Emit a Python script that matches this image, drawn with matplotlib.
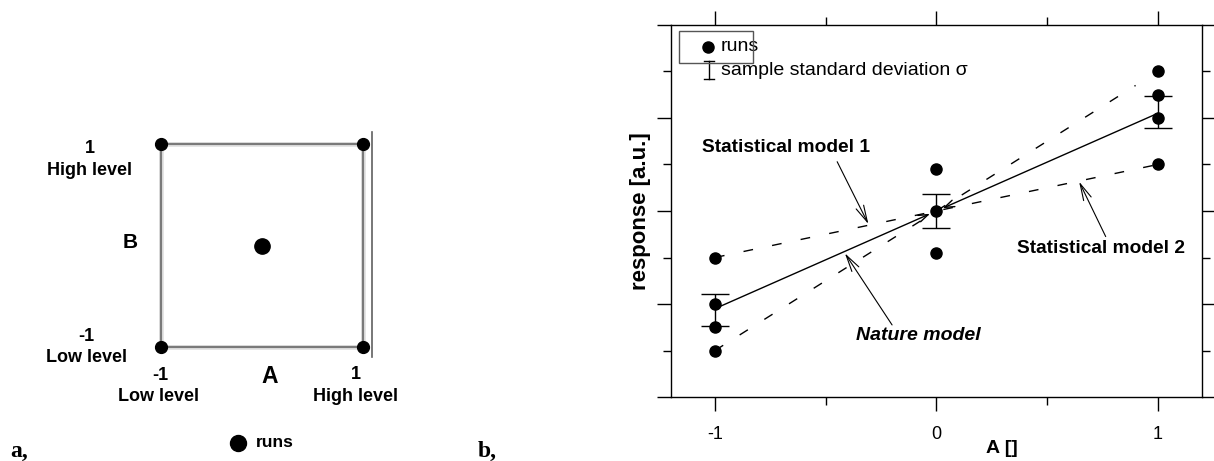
import matplotlib
matplotlib.use('Agg')
import matplotlib.pyplot as plt
import matplotlib.ticker as tic
from matplotlib.patches import Rectangle

plt.rcParams['font.family'] = ['Liberation Sans', 'DejaVu Sans']

# --- a: design of experiment (2^2 + centre point) ---
corner_A = [-1, 1, -1, 1]
corner_B = [1, 1, -1, -1]
centre_A = [0]
centre_B = [0]

# --- b: runs, standard deviation and models ---
run_x = [-1, -1, -1, -1, 0, 0, 0, 1, 1, 1, 1]
run_y = [3.0, 2.0, 1.5, 1.0, 4.9, 4.0, 3.1, 7.0, 6.5, 6.0, 5.0]
sd_x = [-1, 0, 1]
sd_mean = [1.87, 4.0, 6.13]
sd_val = [0.34, 0.37, 0.35]
nature_x = [-1, 0, 1]
nature_y = [1.9, 4.0, 6.1]
model1_x = [-1, 1]
model1_y = [3.0, 5.0]
model2_x = [-1, 0.9]
model2_y = [1.0, 6.7]
xticks = [-1, 0, 1]
xticklabels = ['-1', '0', '1']

fig = plt.figure(figsize=(12.14, 4.61), dpi=100)

# ================= panel a =================
axa = fig.add_axes([0, 0, 480 / 1214, 1])
axa.set_xlim(-2.586, 2.152)
axa.set_ylim(-2.129, 2.426)
axa.axis('off')
sq_x = corner_A[:2] + corner_A[3:1:-1] + corner_A[:1]
sq_y = corner_B[:2] + corner_B[3:1:-1] + corner_B[:1]
axa.plot(sq_x, sq_y, color='#e4e4e4', lw=3.5, zorder=1)
axa.plot(sq_x, sq_y, color='#7a7a7a', lw=1.6, zorder=2)
axa.plot([1.083, 1.083], [1.125, -1.099], color='#606060', lw=1.2, zorder=2)
axa.plot(corner_A, corner_B, 'o', color='black', ms=8.5, zorder=3)
axa.plot(centre_A, centre_B, 'o', color='black', ms=11, zorder=3)

bold = dict(fontweight='bold', ha='center', va='center')
fs = 13
axa.text(-1.70, 0.954, '1', fontsize=fs, **bold)
axa.text(-1.70, 0.746, 'High level', fontsize=fs, **bold)
axa.text(-1.30, 0.025, 'B', fontsize=15, **bold)
axa.text(-1.73, -0.894, '-1', fontsize=fs, **bold)
axa.text(-1.73, -1.11, 'Low level', fontsize=fs, **bold)
axa.text(-1.007, -1.28, '-1', fontsize=fs, **bold)
axa.text(-1.02, -1.487, 'Low level', fontsize=fs, **bold)
axa.text(0.079, -1.29, 'A', fontsize=16.5, **bold)
axa.text(0.928, -1.27, '1', fontsize=fs, **bold)
axa.text(0.928, -1.494, 'High level', fontsize=fs, **bold)
axa.plot([-0.234], [-1.949], 'o', color='black', ms=11.5)
axa.text(-0.059, -1.949, 'runs', fontsize=12.5, fontweight='bold', ha='left', va='center')

fig.text(10 / 1214, 1 - 451 / 461, 'a,', fontsize=17, fontweight='bold',
         family='Liberation Serif', ha='left', va='center')
fig.text(478 / 1214, 1 - 451 / 461, 'b,', fontsize=17, fontweight='bold',
         family='Liberation Serif', ha='left', va='center')

# ================= panel b =================
ax = fig.add_axes([670.7 / 1214, 1 - 397 / 461, 531.3 / 1214, 372 / 461])
ax.set_xlim(-1.2, 1.2)
ax.set_ylim(0, 8)

ax.plot(model1_x, model1_y, color='black', lw=1, dashes=(7, 14), zorder=2)
ax.plot(model2_x, model2_y, color='black', lw=1, dashes=(7, 14), zorder=2)
# nature model: two halves with arrow heads at the centre point
for i in (0, 2):
    ax.annotate('', xy=(nature_x[1], nature_y[1]), xytext=(nature_x[i], nature_y[i]),
                arrowprops=dict(arrowstyle='->,head_length=0.7,head_width=0.25',
                                lw=1, color='black', shrinkA=0, shrinkB=5), zorder=2)
ax.errorbar(sd_x, sd_mean, yerr=sd_val, fmt='none', ecolor='black', elinewidth=1,
            capsize=10, capthick=1, zorder=3)
ax.plot(run_x, run_y, 'o', color='black', ms=8, zorder=4)

arr = dict(arrowstyle='->,head_length=1.2,head_width=0.3', lw=0.8, color='black',
           shrinkA=0, shrinkB=0)
ax.text(-0.678, 5.36, 'Statistical model 1', fontsize=13.8, fontweight='bold',
        ha='center', va='center')
ax.annotate('', xy=(-0.307, 3.72), xytext=(-0.448, 5.06), arrowprops=arr)
ax.text(0.742, 3.20, 'Statistical model 2', fontsize=13.8, fontweight='bold',
        ha='center', va='center')
ax.annotate('', xy=(0.645, 4.63), xytext=(0.765, 3.45), arrowprops=arr)
ax.text(-0.081, 1.33, 'Nature model', fontsize=14, fontweight='bold', style='italic',
        ha='center', va='center')
ax.annotate('', xy=(-0.413, 3.09), xytext=(-0.20, 1.55), arrowprops=arr)

# legend drawn by hand, box only around the first entry
ax.add_patch(Rectangle((0.0156, 0.898), 0.139, 0.086, transform=ax.transAxes,
                       fill=False, edgecolor='#555555', lw=1, zorder=5))
ax.plot([0.0702], [0.941], 'o', color='black', ms=8, transform=ax.transAxes, zorder=6)
ax.text(0.0945, 0.941, 'runs', fontsize=14, ha='left', va='center', transform=ax.transAxes)
ax.plot([0.072, 0.072], [0.855, 0.903], color='black', lw=1, transform=ax.transAxes)
ax.plot([0.063, 0.081], [0.855, 0.855], color='black', lw=1, transform=ax.transAxes)
ax.plot([0.063, 0.081], [0.903, 0.903], color='black', lw=1, transform=ax.transAxes)
ax.text(0.0945, 0.877, 'sample standard deviation σ', fontsize=14, ha='left', va='center',
        transform=ax.transAxes)

ax.set_xticks(xticks)
ax.set_xticklabels(xticklabels, fontsize=13)
ax.xaxis.set_minor_locator(tic.MultipleLocator(0.5))
ax.yaxis.set_major_locator(tic.MultipleLocator(2))
ax.yaxis.set_minor_locator(tic.MultipleLocator(1))
ax.tick_params(which='both', direction='out', top=True, right=True, width=1,
               labelleft=False, labelright=False, labeltop=False)
ax.tick_params(which='major', length=10, pad=11)
ax.tick_params(which='minor', length=5.5)
for s in ax.spines.values():
    s.set_linewidth(1)

ax.set_xlabel('A []', fontsize=14, fontweight='bold')
ax.xaxis.set_label_coords(0.623, -0.115)
ax.set_ylabel('response [a.u.]', fontsize=16, fontweight='bold')
ax.yaxis.set_label_coords(-0.037, 0.5)

fig.savefig('out.png', dpi=100)
